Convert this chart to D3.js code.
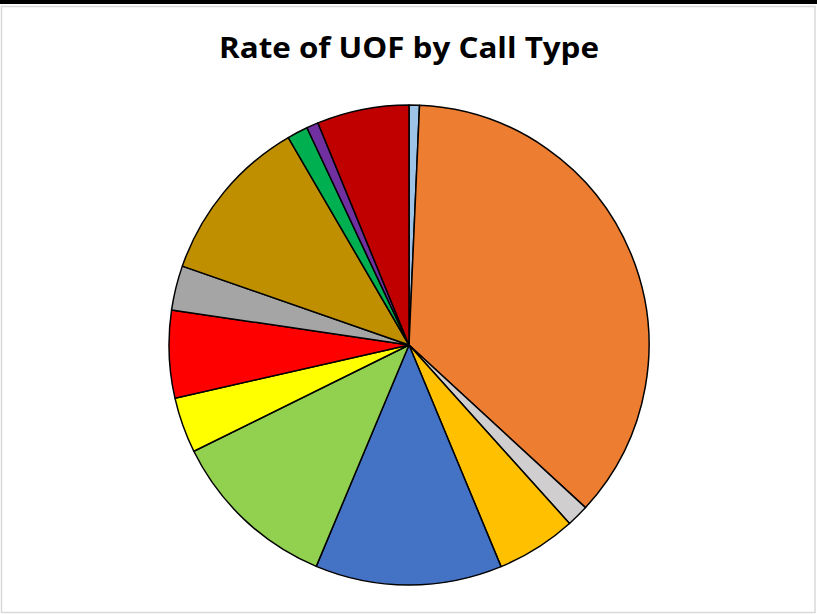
<!DOCTYPE html>
<html>
<head>
<meta charset="utf-8">
<script src="https://cdn.jsdelivr.net/npm/d3@7"></script>
<style>
  html, body { margin: 0; padding: 0; background: #fff; }
  svg { display: block; }
</style>
</head>
<body>
<svg id="chart" width="817" height="614"></svg>
<script>
// Call types, in the order Excel draws them (clockwise from 12 o'clock)
const callTypes = [
  "Type A", "Type B", "Type C", "Type D", "Type E", "Type F", "Type G",
  "Type H", "Type I", "Type J", "Type K", "Type L", "Type M"
];
// rate of UOF share per call type (percent)
const uofRates = [0.7, 36.2, 1.5, 5.4, 12.6, 11.4, 3.75, 5.9, 3.0, 11.3, 1.4, 0.8, 6.2];
const sliceColors = [
  "#9dc3e6", "#ed7d31", "#d0cece", "#ffc000", "#4472c4", "#92d050", "#ffff00",
  "#ff0000", "#a5a5a5", "#bf8f00", "#00b050", "#7030a0", "#c00000"
];

const width = 817, height = 614;
const cx = 409, cy = 345, radius = 240;

const svg = d3.select("#chart");

// black strip at the top and the light grey chart frame
svg.append("rect")
  .attr("x", 0).attr("y", 0)
  .attr("width", width).attr("height", 4)
  .attr("fill", "#000");
svg.append("rect")
  .attr("x", 1.5).attr("y", 6.5)
  .attr("width", width - 3.5).attr("height", height - 8)
  .attr("fill", "none")
  .attr("stroke", "#d9d9d9")
  .attr("stroke-width", 1.5);

svg.append("text")
  .attr("x", cx)
  .attr("y", 58)
  .attr("text-anchor", "middle")
  .attr("font-family", "'Open Sans', Lato, sans-serif")
  .attr("font-weight", "bold")
  .attr("font-size", 28)
  .attr("textLength", 380)
  .attr("lengthAdjust", "spacingAndGlyphs")
  .attr("fill", "#000")
  .text("Rate of UOF by Call Type");

const data = callTypes.map((name, i) => ({ name, value: uofRates[i], color: sliceColors[i] }));

const pie = d3.pie()
  .value(d => d.value)
  .sort(null);

const arc = d3.arc()
  .innerRadius(0)
  .outerRadius(radius);

svg.append("g")
  .attr("transform", `translate(${cx},${cy})`)
  .selectAll("path")
  .data(pie(data))
  .join("path")
    .attr("d", arc)
    .attr("fill", d => d.data.color)
    .attr("stroke", "#000")
    .attr("stroke-width", 1.5)
    .attr("stroke-linejoin", "round");
</script>
</body>
</html>
